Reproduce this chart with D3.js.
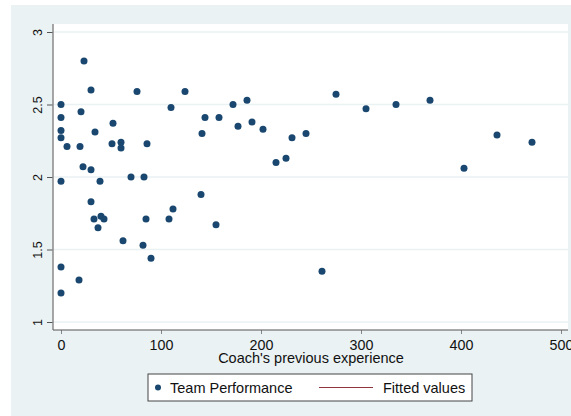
<!DOCTYPE html>
<html>
<head>
<meta charset="utf-8">
<script src="https://cdn.jsdelivr.net/npm/d3@7"></script>
<style>
  body { margin: 0; background: #fff; }
  svg { display: block; font-family: "Liberation Sans", Arial, sans-serif; }
</style>
</head>
<body>
<div id="viz"></div>
<script>
// coach's previous experience (x) and team performance (y)
const experience = [0, 0, 0, 0, 6, 0, 23, 30, 20, 34, 19, 22, 30, 39, 52, 51, 60, 60, 70, 76,
  83, 86, 110, 124, 140, 141, 144, 158, 172, 177, 186, 191, 202, 215, 225, 231, 245, 275,
  305, 335, 369, 403, 436, 471, 30, 33, 40, 43, 37, 62, 82, 85, 90, 108, 112, 155, 0, 18, 0, 261];
const performance = [2.50, 2.41, 2.32, 2.27, 2.21, 1.97, 2.80, 2.60, 2.45, 2.31, 2.21, 2.07, 2.05,
  1.97, 2.37, 2.23, 2.24, 2.20, 2.00, 2.59, 2.00, 2.23, 2.48, 2.59, 1.88, 2.30, 2.41, 2.41,
  2.50, 2.35, 2.53, 2.38, 2.33, 2.10, 2.13, 2.27, 2.30, 2.57, 2.47, 2.50, 2.53, 2.06, 2.29,
  2.24, 1.83, 1.71, 1.73, 1.71, 1.65, 1.56, 1.53, 1.71, 1.44, 1.71, 1.78, 1.67, 1.38, 1.29,
  1.20, 1.35];
const xTicks = [0, 100, 200, 300, 400, 500];
const yTicks = [1, 1.5, 2, 2.5, 3];
const legendLabels = ['Team Performance', 'Fitted values'];
const xTitle = "Coach's previous experience";

const data = experience.map((d, i) => ({ x: d, y: performance[i] }));

const width = 571, height = 416;
const bg = '#eaf2f3';
const navy = '#1a476f';
const maroon = '#90353b';

const plot = { left: 53, right: 568, top: 24, bottom: 330 };

const svg = d3.select('#viz').append('svg')
  .attr('width', width)
  .attr('height', height);

// outer graph region
svg.append('rect')
  .attr('x', 11).attr('y', 5)
  .attr('width', width - 11).attr('height', height - 5)
  .style('fill', bg);

// plot region
svg.append('rect')
  .attr('x', plot.left).attr('y', plot.top)
  .attr('width', plot.right - plot.left).attr('height', plot.bottom - plot.top)
  .style('fill', '#fff');

const xScale = d3.scaleLinear().domain([0, 500]).range([61, 561]);
const yScale = d3.scaleLinear().domain([1, 3]).range([322, 32]);

// grid lines
svg.append('g')
  .selectAll('line')
  .data(yTicks)
  .enter().append('line')
  .attr('x1', plot.left).attr('x2', plot.right)
  .attr('y1', d => yScale(d)).attr('y2', d => yScale(d))
  .style('stroke', bg)
  .style('stroke-width', 1.5);

// y axis
const yAxis = svg.append('g')
  .attr('transform', `translate(${plot.left},0)`)
  .call(d3.axisLeft(yScale).tickValues(yTicks).tickSize(6).tickFormat(d3.format('')));
yAxis.select('.domain').remove();
yAxis.append('line')
  .attr('x1', 0).attr('x2', 0)
  .attr('y1', plot.top).attr('y2', plot.bottom)
  .style('stroke', '#8a8a8a').style('stroke-width', 1.5);
yAxis.selectAll('.tick line').style('stroke', '#555');
yAxis.selectAll('.tick text')
  .attr('transform', 'rotate(-90)')
  .attr('x', 0).attr('y', -11.5)
  .attr('dy', 0)
  .style('text-anchor', 'middle')
  .style('font-size', '12.5px')
  .style('fill', '#111');

// x axis
const xAxis = svg.append('g')
  .attr('transform', `translate(0,${plot.bottom})`)
  .call(d3.axisBottom(xScale).tickValues(xTicks).tickSize(4));
xAxis.select('.domain').remove();
xAxis.append('line')
  .attr('x1', plot.left).attr('x2', plot.right)
  .attr('y1', 0).attr('y2', 0)
  .style('stroke', '#555').style('stroke-width', 1.2);
xAxis.selectAll('.tick line').style('stroke', '#888');
xAxis.selectAll('.tick text')
  .attr('y', 9.5)
  .style('font-size', '14.3px')
  .style('fill', '#111');

svg.append('text')
  .attr('x', (xScale(0) + xScale(500)) / 2)
  .attr('y', 363)
  .attr('text-anchor', 'middle')
  .style('font-size', '14.5px')
  .style('fill', '#111')
  .text(xTitle);

// points
svg.append('g')
  .selectAll('circle')
  .data(data)
  .enter().append('circle')
  .attr('cx', d => xScale(d.x))
  .attr('cy', d => yScale(d.y))
  .attr('r', 3.5)
  .style('fill', navy);

// legend
const legend = svg.append('g').attr('transform', 'translate(148,374)');
legend.append('rect')
  .attr('x', 0).attr('y', 0)
  .attr('width', 324).attr('height', 27)
  .style('fill', '#fff')
  .style('stroke', '#444')
  .style('stroke-width', 1);
legend.append('circle')
  .attr('cx', 10).attr('cy', 13.5).attr('r', 3)
  .style('fill', navy);
legend.append('text')
  .attr('x', 22).attr('y', 19)
  .style('font-size', '14.5px')
  .style('fill', '#111')
  .text(legendLabels[0]);
legend.append('line')
  .attr('x1', 171).attr('x2', 225)
  .attr('y1', 13.5).attr('y2', 13.5)
  .style('stroke', maroon)
  .style('stroke-width', 1.2);
legend.append('text')
  .attr('x', 235).attr('y', 19)
  .style('font-size', '14.5px')
  .style('fill', '#111')
  .text(legendLabels[1]);
</script>
</body>
</html>
